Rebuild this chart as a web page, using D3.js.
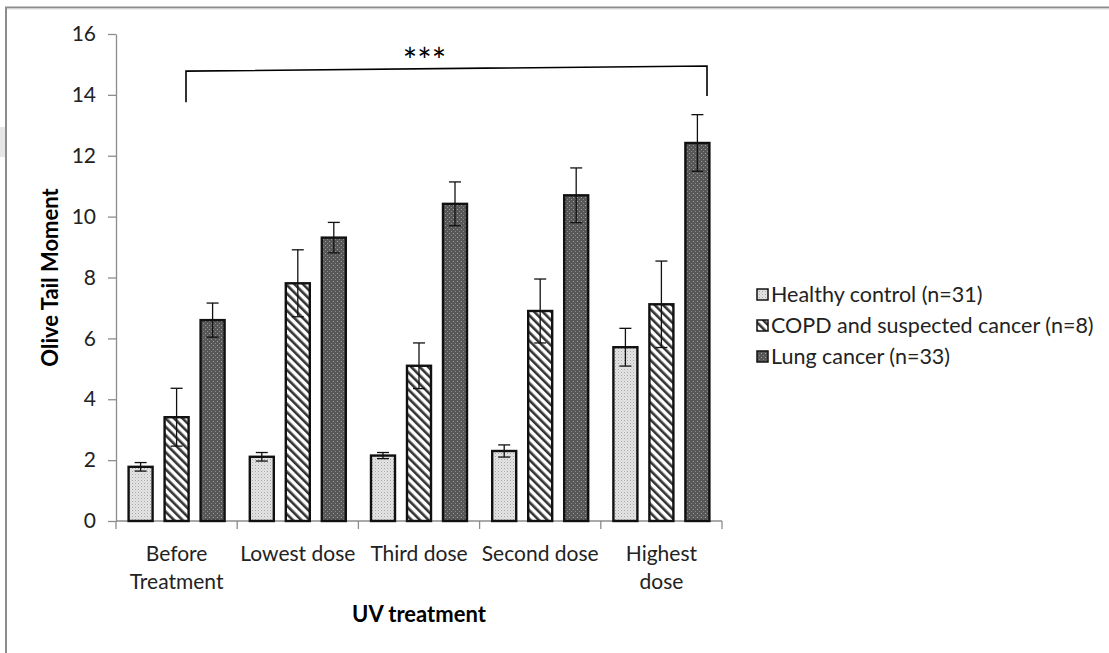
<!DOCTYPE html>
<html>
<head>
<meta charset="utf-8">
<script src="https://cdn.jsdelivr.net/npm/d3@7"></script>
<style>
  html, body { margin: 0; padding: 0; background: #fff; }
  svg { display: block; }
  text { font-family: Lato, "Open Sans", sans-serif; }
</style>
</head>
<body>
<svg id="chart" width="1109" height="653"></svg>
<script>
// ---------- data ----------
const categories = ["Before|Treatment", "Lowest dose", "Third dose", "Second dose", "Highest|dose"];
const seriesNames = ["Healthy control (n=31)", "COPD and suspected cancer (n=8)", "Lung cancer (n=33)"];
const healthy = [1.78, 2.11, 2.15, 2.30, 5.71];
const healthyErr = [0.14, 0.14, 0.10, 0.20, 0.62];
const copd = [3.41, 7.81, 5.10, 6.90, 7.12];
const copdErr = [0.95, 1.10, 0.75, 1.05, 1.42];
const lung = [6.60, 9.31, 10.42, 10.70, 12.42];
const lungErr = [0.56, 0.50, 0.72, 0.90, 0.93];
const yTicks = [0, 2, 4, 6, 8, 10, 12, 14, 16];
const significance = "***";

const values = [healthy, copd, lung];
const errors = [healthyErr, copdErr, lungErr];

// ---------- layout ----------
const svg = d3.select("#chart");
const W = 1109, H = 653;
const plot = { left: 116, right: 722, top: 34, bottom: 521 };

// frame
svg.append("rect").attr("x", 0).attr("y", 127).attr("width", 5).attr("height", 30).attr("fill", "#e6e6e6");
svg.append("line").attr("x1", 6).attr("x2", 6).attr("y1", 7).attr("y2", H).attr("stroke", "#8c8c8c").attr("stroke-width", 2);
svg.append("line").attr("x1", 5).attr("x2", W).attr("y1", 7.5).attr("y2", 7.5).attr("stroke", "#8c8c8c").attr("stroke-width", 2);
svg.append("line").attr("x1", 7).attr("x2", W).attr("y1", 9).attr("y2", 9).attr("stroke", "#dcdcdc").attr("stroke-width", 1);

// patterns
const defs = svg.append("defs");
const p1 = defs.append("pattern").attr("id", "pHealthy").attr("patternUnits", "userSpaceOnUse").attr("width", 3).attr("height", 3);
p1.append("rect").attr("width", 3).attr("height", 3).attr("fill", "#e4e4e4");
p1.append("rect").attr("x", 0).attr("y", 0).attr("width", 1).attr("height", 1).attr("fill", "#a8a8a8");
p1.append("rect").attr("x", 1.5).attr("y", 1.5).attr("width", 1).attr("height", 1).attr("fill", "#c4c4c4");

const p2 = defs.append("pattern").attr("id", "pCopd").attr("patternUnits", "userSpaceOnUse")
  .attr("width", 6).attr("height", 6).attr("patternTransform", "rotate(-45)");
p2.append("rect").attr("width", 6).attr("height", 6).attr("fill", "#ffffff");
p2.append("rect").attr("x", 0).attr("y", 0).attr("width", 2.6).attr("height", 6).attr("fill", "#333333");

const p3 = defs.append("pattern").attr("id", "pLung").attr("patternUnits", "userSpaceOnUse").attr("width", 4).attr("height", 4);
p3.append("rect").attr("width", 4).attr("height", 4).attr("fill", "#575757");
p3.append("rect").attr("x", 1).attr("y", 1).attr("width", 1).attr("height", 1).attr("fill", "#a0a0a0");
p3.append("rect").attr("x", 3).attr("y", 3).attr("width", 1).attr("height", 1).attr("fill", "#8a8a8a");

const fills = ["url(#pHealthy)", "url(#pCopd)", "url(#pLung)"];

// scales
const x0 = d3.scaleBand().domain(categories).range([plot.left, plot.right]).padding(0);
const x1 = d3.scaleBand().domain(d3.range(3)).range([0, x0.bandwidth()]).paddingInner(0.333).paddingOuter(0.35);
const y = d3.scaleLinear().domain([0, 16]).range([plot.bottom, plot.top]);

// y axis
const yAxis = svg.append("g").attr("transform", `translate(${plot.left},0)`)
  .call(d3.axisLeft(y).tickValues(yTicks).tickSize(8).tickPadding(12).tickSizeOuter(0));
yAxis.select(".domain").attr("stroke", "#8c8c8c").attr("stroke-width", 1.3);
yAxis.selectAll(".tick line").attr("stroke", "#8c8c8c").attr("stroke-width", 1.3);
yAxis.selectAll(".tick text").attr("font-size", 21).attr("fill", "#222").attr("font-family", "Lato, sans-serif");

// x axis line and boundary ticks
svg.append("line").attr("x1", plot.left).attr("x2", plot.right).attr("y1", plot.bottom).attr("y2", plot.bottom)
  .attr("stroke", "#8c8c8c").attr("stroke-width", 1.3);
const boundaries = categories.map(c => x0(c)).concat([x0(categories[categories.length - 1]) + x0.bandwidth()]);
svg.selectAll(".xtick").data(boundaries).enter().append("line")
  .attr("x1", d => d).attr("x2", d => d).attr("y1", plot.bottom).attr("y2", plot.bottom + 8)
  .attr("stroke", "#8c8c8c").attr("stroke-width", 1.3);

// x labels
categories.forEach(c => {
  const lines = c.split("|");
  const t = svg.append("text").attr("x", x0(c) + x0.bandwidth() / 2).attr("y", 561)
    .attr("text-anchor", "middle").attr("font-size", 21).attr("fill", "#222");
  lines.forEach((ln, i) => t.append("tspan").attr("x", x0(c) + x0.bandwidth() / 2).attr("dy", i === 0 ? 0 : 28).text(ln));
});

// bars
const barG = svg.append("g");
categories.forEach((c, ci) => {
  values.forEach((series, si) => {
    const v = series[ci], e = errors[si][ci];
    const bx = x0(c) + x1(si), bw = x1.bandwidth();
    barG.append("rect").attr("x", bx).attr("y", y(v)).attr("width", bw).attr("height", y(0) - y(v))
      .attr("fill", fills[si]).attr("stroke", "#111").attr("stroke-width", 2.4);
    const cx = bx + bw / 2;
    barG.append("line").attr("x1", cx).attr("x2", cx).attr("y1", y(v + e)).attr("y2", y(v - e)).attr("stroke", "#111").attr("stroke-width", 1.3);
    [v + e, v - e].forEach(val => barG.append("line").attr("x1", cx - 6).attr("x2", cx + 6).attr("y1", y(val)).attr("y2", y(val))
      .attr("stroke", "#111").attr("stroke-width", 1.3));
  });
});

// significance bracket
const bl = x0(categories[0]) + 70, br = x0(categories[4]) + x0.bandwidth() - 15;
svg.append("path").attr("d", `M${bl},${y(13.76)} L${bl},${y(14.78)} L${br},${y(14.95)} L${br},${y(13.96)}`)
  .attr("fill", "none").attr("stroke", "#000").attr("stroke-width", 1.6);
svg.append("text").attr("x", (bl + br) / 2 - 22).attr("y", y(15.0) + 9).attr("text-anchor", "middle")
  .attr("font-size", 34).attr("font-family", "DejaVu Sans, sans-serif").attr("fill", "#000").text(significance);

// axis titles
svg.append("text").attr("transform", `translate(58,${(plot.top + plot.bottom) / 2}) rotate(-90)`)
  .attr("text-anchor", "middle").attr("font-size", 22).attr("font-weight", "bold").attr("fill", "#000").text("Olive Tail Moment");
svg.append("text").attr("x", (plot.left + plot.right) / 2).attr("y", 622).attr("text-anchor", "middle")
  .attr("font-size", 22).attr("font-weight", "bold").attr("fill", "#000").text("UV treatment");

// legend
const lg = svg.append("g");
seriesNames.forEach((n, i) => {
  const ly = 295 + i * 31;
  lg.append("rect").attr("x", 757).attr("y", ly - 6).attr("width", 11).attr("height", 11)
    .attr("fill", fills[i]).attr("stroke", "#111").attr("stroke-width", 1.5);
  lg.append("text").attr("x", 771).attr("y", ly + 7).attr("font-size", 21.5).attr("fill", "#222").text(n);
});
</script>
</body>
</html>
